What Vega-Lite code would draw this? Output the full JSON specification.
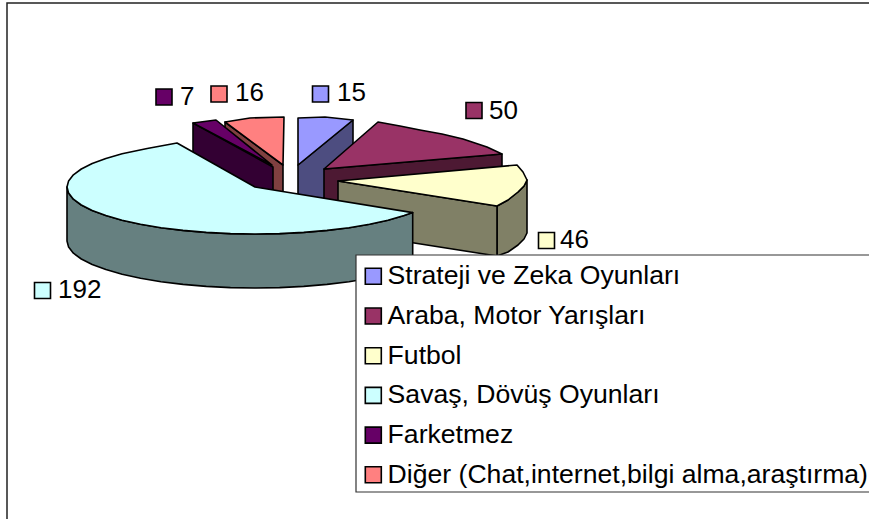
{
"$schema":"https://vega.github.io/schema/vega-lite/v6.json",
"width":869,"height":519,"padding":0,"autosize":{"type":"none"},"background":"white",
"config":{"view":{"stroke":null}},
"projection":{"type":"identity","scale":1,"translate":[0,0]},
"datasets":{
"cerceve":[{"type":"Feature","properties":{"ad":"cerceve"},"geometry":{"type":"Polygon","coordinates":[[[7,3],[900,3],[900,600],[7,600],[7,3]]]}}],
"lejant":[{"type":"Feature","properties":{"ad":"lejant"},"geometry":{"type":"Polygon","coordinates":[[[356,255],[900,255],[900,492],[356,492],[356,255]]]}}],
"dilimler":[
{"type":"Feature","properties":{"seri":"Diğer yan","deger":16},"geometry":{"type":"Polygon","coordinates":[[[225,122],[283,165],[283,219],[225,176],[225,122]]]}},
{"type":"Feature","properties":{"seri":"Diğer (Chat,internet,bilgi alma,araştırma)","deger":16},"geometry":{"type":"Polygon","coordinates":[[[225,122],[250,118],[284,117],[283,165],[225,122]]]}},
{"type":"Feature","properties":{"seri":"Farketmez yan","deger":7},"geometry":{"type":"Polygon","coordinates":[[[193,123],[273,167],[273,221],[193,177],[193,123]]]}},
{"type":"Feature","properties":{"seri":"Farketmez","deger":7},"geometry":{"type":"Polygon","coordinates":[[[193,123],[216,120],[272,165],[193,123]]]}},
{"type":"Feature","properties":{"seri":"Strateji yan","deger":15},"geometry":{"type":"Polygon","coordinates":[[[298,165],[353,120],[353,174],[298,219],[298,165]]]}},
{"type":"Feature","properties":{"seri":"Strateji ve Zeka Oyunları","deger":15},"geometry":{"type":"Polygon","coordinates":[[[298,118],[325,117],[353,120],[298,165],[298,118]]]}},
{"type":"Feature","properties":{"seri":"Araba yan","deger":50},"geometry":{"type":"Polygon","coordinates":[[[324,169],[502,154],[502,208],[324,223],[324,169]]]}},
{"type":"Feature","properties":{"seri":"Araba, Motor Yarışları","deger":50},"geometry":{"type":"Polygon","coordinates":[[[378,122],[400,126],[420,130],[442,134],[463,139],[487,147],[502,154],[324,169],[378,122]]]}},
{"type":"Feature","properties":{"seri":"Futbol yan","deger":46},"geometry":{"type":"Polygon","coordinates":[[[497,206],[508,200],[518,192],[524,186],[527,180],[527,233],[524,239],[518,245],[508,252],[497,256],[497,206]]]}},
{"type":"Feature","properties":{"seri":"Futbol yan","deger":46},"geometry":{"type":"Polygon","coordinates":[[[338,181],[497,206],[497,256],[338,231],[338,181]]]}},
{"type":"Feature","properties":{"seri":"Futbol","deger":46},"geometry":{"type":"Polygon","coordinates":[[[338,181],[517,165],[523,172],[527,180],[524,186],[518,192],[508,200],[497,206],[338,181]]]}},
{"type":"Feature","properties":{"seri":"Savaş yan","deger":192},"geometry":{"type":"Polygon","coordinates":[[[412.7,212.6],[404.1,215.6],[387.9,220.2],[369.5,224.3],[349,227.7],[327,230.4],[303.7,232.4],[279.5,233.6],[255,234],[230.5,233.6],[206.3,232.4],[183,230.4],[161,227.7],[140.5,224.3],[122.1,220.2],[105.9,215.6],[92.2,210.5],[81.3,205],[73.4,199.2],[68.6,193.1],[67,187],[67,241],[68.6,247.1],[73.4,253.2],[81.3,259],[92.2,264.5],[105.9,269.6],[122.1,274.2],[140.5,278.3],[161,281.7],[183,284.4],[206.3,286.4],[230.5,287.6],[255,288],[279.5,287.6],[303.7,286.4],[327,284.4],[349,281.7],[369.5,278.3],[387.9,274.2],[404.1,269.6],[412.7,266.6],[412.7,212.6]]]}},
{"type":"Feature","properties":{"seri":"Savaş, Dövüş Oyunları","deger":192},"geometry":{"type":"Polygon","coordinates":[[[412.7,212.6],[404.1,215.6],[387.9,220.2],[369.5,224.3],[349,227.7],[327,230.4],[303.7,232.4],[279.5,233.6],[255,234],[230.5,233.6],[206.3,232.4],[183,230.4],[161,227.7],[140.5,224.3],[122.1,220.2],[105.9,215.6],[92.2,210.5],[81.3,205],[73.4,199.2],[68.6,193.1],[67,187],[68.6,180.9],[73.4,174.8],[81.3,169],[92.2,163.5],[105.9,158.4],[122.1,153.8],[147.2,148.5],[177,143],[255,187],[412.7,212.6]]]}}
],
"etiketler":[
{"seri":"Strateji ve Zeka Oyunları","deger":15,"sx":320.5,"sy":94,"tx":337,"ty":93},
{"seri":"Araba, Motor Yarışları","deger":50,"sx":474,"sy":110.5,"tx":489,"ty":111},
{"seri":"Futbol","deger":46,"sx":546.5,"sy":240.5,"tx":560,"ty":240},
{"seri":"Savaş, Dövüş Oyunları","deger":192,"sx":42.5,"sy":290.5,"tx":58,"ty":290},
{"seri":"Farketmez","deger":7,"sx":164,"sy":97,"tx":180,"ty":97},
{"seri":"Diğer (Chat,internet,bilgi alma,araştırma)","deger":16,"sx":219,"sy":94,"tx":235,"ty":93}
]},
"layer":[
{"data":{"name":"cerceve"},"mark":{"type":"geoshape","fill":"white","stroke":"#222222","strokeWidth":1.5}},
{"data":{"name":"dilimler"},
 "mark":{"type":"geoshape","stroke":"black","strokeWidth":1.6,"strokeJoin":"round"},
 "encoding":{"color":{"field":"properties.seri","type":"nominal",
  "scale":{"domain":["Strateji ve Zeka Oyunları","Araba, Motor Yarışları","Futbol","Savaş, Dövüş Oyunları","Farketmez","Diğer (Chat,internet,bilgi alma,araştırma)","Strateji yan","Araba yan","Futbol yan","Savaş yan","Farketmez yan","Diğer yan"],
   "range":["#9999FF","#993366","#FFFFCC","#CCFFFF","#660066","#FF8080","#4D4D80","#4D1933","#808066","#668080","#330033","#804040"]},
  "legend":{"title":null,"orient":"none","legendX":356,"legendY":255,
   "values":["Strateji ve Zeka Oyunları","Araba, Motor Yarışları","Futbol","Savaş, Dövüş Oyunları","Farketmez","Diğer (Chat,internet,bilgi alma,araştırma)"],
   "padding":8,"symbolType":"square","symbolSize":256,"symbolStrokeColor":"black","symbolStrokeWidth":1.6,"symbolOffset":-4,
   "labelFont":"Liberation Sans","labelFontSize":26.6,"labelColor":"black","labelLimit":700,"rowPadding":12.7,"labelOffset":1,"symbolOpacity":1}}}},
{"data":{"name":"lejant"},"mark":{"type":"geoshape","fill":"white","stroke":"#333333","strokeWidth":1.2}},
{"data":{"name":"etiketler"},
 "mark":{"type":"point","shape":"square","filled":true,"size":256,"stroke":"black","strokeWidth":1.6,"opacity":1},
 "encoding":{"longitude":{"field":"sx","type":"quantitative"},"latitude":{"field":"sy","type":"quantitative"},
  "color":{"field":"seri","type":"nominal","legend":null}}},
{"data":{"name":"etiketler"},
 "mark":{"type":"text","align":"left","baseline":"middle","font":"Liberation Sans","fontSize":26,"color":"black"},
 "encoding":{"longitude":{"field":"tx","type":"quantitative"},"latitude":{"field":"ty","type":"quantitative"},"text":{"field":"deger","type":"quantitative"}}}
]
}
